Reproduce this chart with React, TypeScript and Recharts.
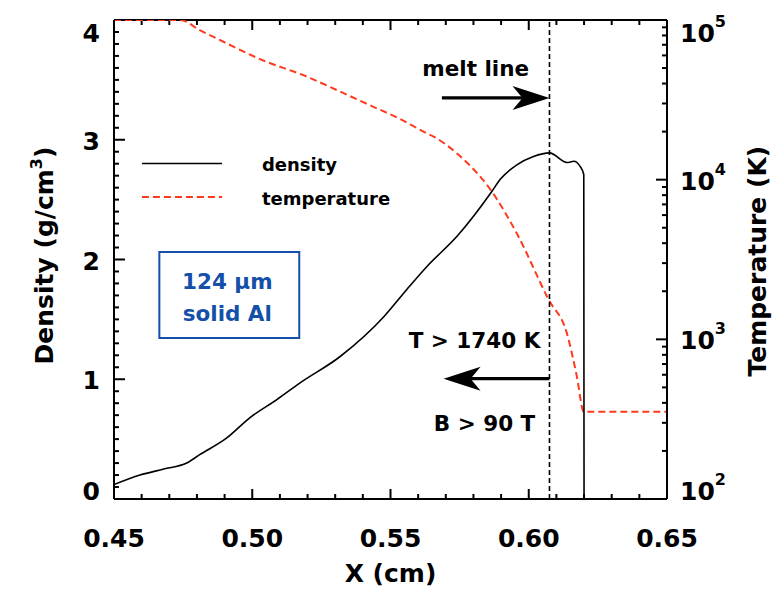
import React from "react";
import { ComposedChart, Line, XAxis, YAxis, ReferenceLine, ReferenceArea } from "recharts";

const FONT = "'DejaVu Sans', sans-serif";
const RED = "#ff3a1c";
const BLUE = "#1450aa";

// density profile (g/cm^3) vs X (cm)
const densityX = [
  0.45, 0.4594, 0.468, 0.4763, 0.481, 0.4908, 0.4992, 0.5089, 0.5173, 0.5318,
  0.5475, 0.5559, 0.5631, 0.5743, 0.5867, 0.5897, 0.5957, 0.6017, 0.6075,
  0.6138, 0.6163, 0.6185, 0.6199, 0.62,
];
const densityY = [
  0.12, 0.2, 0.25, 0.3, 0.37, 0.51, 0.68, 0.83, 0.97, 1.19, 1.52, 1.75, 1.94,
  2.2, 2.57, 2.67, 2.79, 2.86, 2.89, 2.81, 2.82, 2.78, 2.71, 0,
];

// temperature profile (K) vs X (cm)
const tempX = [
  0.45, 0.4739, 0.481, 0.4932, 0.5028, 0.5197, 0.5318, 0.5438, 0.5535,
  0.5631, 0.5656, 0.5746, 0.5867, 0.5957, 0.6072, 0.6138, 0.6174, 0.6199,
  0.65,
];
const tempY = [
  100000, 100000, 86500, 68100, 56900, 44200, 35600, 28600, 24000, 19500,
  18600, 14300, 8400, 4600, 1770, 1090, 585, 352, 352,
];

const xMajor = [0.45, 0.5, 0.55, 0.6, 0.65];
const xLabels = ["0.45", "0.50", "0.55", "0.60", "0.65"];
const densityMajor = [0, 1, 2, 3, 4];
const tempMajor = [100, 1000, 10000, 100000];
const tempExp = ["2", "3", "4", "5"];

const meltX = 0.6075;

// legend sample lines, in data units
const legendX = [0.4601, 0.4891];
const legendDensityY = 2.802;
const legendTempY = 2.522;

const xTicks = Array.from({ length: 21 }, (_, i) => (45 + i) / 100);
const densityTicks = Array.from({ length: 41 }, (_, i) => i / 10);
const tempTicks = [2, 3, 4]
  .flatMap((d) => [1, 2, 3, 4, 5, 6, 7, 8, 9].map((m) => m * Math.pow(10, d)))
  .concat([100000]);

const densityData = densityX.map((x, i) => ({ x, density: densityY[i] }));
const tempData = tempX.map((x, i) => ({ x, temp: tempY[i] }));

const PLOT_TOP = 20;
const PLOT_BOTTOM = 499;
// pixels per data unit of the plot box (553 x 479 px)
const PX_PER_X = 553 / 0.2;
const PX_PER_D = 479 / 4;

const isMajor = (list: number[], v: number) =>
  list.findIndex((m) => Math.abs(m - v) < 1e-9 * Math.max(1, m));

const tickText = {
  fontFamily: FONT,
  fontWeight: 700,
  fontSize: 25,
  fill: "#000",
};

const titleStyle = { ...tickText, whiteSpace: "pre" as const };

const clampBase = (y: number) =>
  Math.min(PLOT_BOTTOM + 1, Math.max(PLOT_TOP + 22, y + 10));

// tick labels (and the axis titles, hung on the middle tick of each axis)
const renderBottomLabel = (props: any) => {
  const { x, y, payload } = props;
  const idx = isMajor(xMajor, payload.value);
  if (idx < 0) return <g />;
  return (
    <g>
      <text x={x} y={y + 48} textAnchor="middle" {...tickText}>
        {xLabels[idx]}
      </text>
      {idx === 2 && (
        <text x={x} y={y + 83} textAnchor="middle" {...titleStyle}>
          {"X  (cm)"}
        </text>
      )}
    </g>
  );
};

const renderLeftLabel = (props: any) => {
  const { x, y, payload } = props;
  const idx = isMajor(densityMajor, payload.value);
  if (idx < 0) return <g />;
  return (
    <g>
      <text x={x - 14} y={clampBase(y)} textAnchor="end" {...tickText}>
        {String(densityMajor[idx])}
      </text>
      {idx === 2 && (
        <text
          transform={`translate(${x - 61},${y - 4}) rotate(-90)`}
          textAnchor="middle"
          {...titleStyle}
        >
          {"Density  (g/cm"}
          <tspan dy={-11} fontSize={16}>
            3
          </tspan>
          <tspan dy={11}>)</tspan>
        </text>
      )}
    </g>
  );
};

const renderRightLabel = (props: any) => {
  const { x, y, payload } = props;
  const idx = isMajor(tempMajor, payload.value);
  if (Math.abs(payload.value - 3000) < 1e-6) {
    return (
      <text
        transform={`translate(${x + 99},${y - 2}) rotate(-90)`}
        textAnchor="middle"
        {...titleStyle}
      >
        {"Temperature  (K)"}
      </text>
    );
  }
  if (idx < 0) return <g />;
  return (
    <text x={x + 13} y={clampBase(y)} textAnchor="start" {...tickText}>
      10
      <tspan dy={-15} fontSize={16}>
        {tempExp[idx]}
      </tspan>
    </text>
  );
};

const noteStyle = {
  fontFamily: FONT,
  fontWeight: 700,
  fontSize: 21.5,
  fill: "#000",
};

type NoteSpec = { text: string; dx: number; dy: number };

function ArrowNote(props: any) {
  const { x1, y1, x2, y2, notes } = props;
  const dx = x2 - x1;
  const dy = y2 - y1;
  const len = Math.sqrt(dx * dx + dy * dy) || 1;
  const ux = dx / len;
  const uy = dy / len;
  const nx = -uy;
  const ny = ux;
  const head = 37;
  const half = 12;
  const notch = 10;
  const bx = x2 - ux * head;
  const by = y2 - uy * head;
  const pts = [
    [x2, y2],
    [bx + nx * half, by + ny * half],
    [x2 - ux * (head - notch), y2 - uy * (head - notch)],
    [bx - nx * half, by - ny * half],
  ]
    .map((p) => p.join(","))
    .join(" ");
  const mx = (x1 + x2) / 2;
  const my = (y1 + y2) / 2;
  return (
    <g>
      <line
        x1={x1}
        y1={y1}
        x2={x2 - ux * (head - notch)}
        y2={y2 - uy * (head - notch)}
        stroke="#000"
        strokeWidth={3.2}
      />
      <polygon points={pts} fill="#000" />
      {(notes as NoteSpec[]).map((n) => (
        <text key={n.text} x={mx + n.dx} y={my + n.dy} textAnchor="middle" {...noteStyle}>
          {n.text}
        </text>
      ))}
    </g>
  );
}

const legendShape = (label: string, color: string, dash?: string) => (p: any) =>
  (
    <g>
      <line
        x1={p.x1}
        y1={p.y1}
        x2={p.x2}
        y2={p.y2}
        stroke={color}
        strokeWidth={color === RED ? 2 : 1.6}
        strokeDasharray={dash}
      />
      <text
        x={p.x1 + 120}
        y={p.y1 + 8}
        fontFamily={FONT}
        fontWeight={700}
        fontSize={18}
        fill="#000"
      >
        {label}
      </text>
    </g>
  );

function BoxLabel(props: any) {
  const { x, y, width } = props.viewBox;
  const cx = x + width / 2 - 2;
  return (
    <g>
      <text x={cx} y={y + 37} textAnchor="middle" {...noteStyle} fill={BLUE}>
        124 µm
      </text>
      <text x={cx} y={y + 69} textAnchor="middle" {...noteStyle} fill={BLUE}>
        solid Al
      </text>
    </g>
  );
}

// inward tick marks as short segments
const tickSeg = {
  xAxisId: "xb",
  stroke: "#000",
  strokeWidth: 2,
  ifOverflow: "visible" as const,
};

export default function App() {
  return (
    <div style={{ marginLeft: -8, marginTop: -8 }}>
      <ComposedChart
        width={782}
        height={594}
        margin={{ top: PLOT_TOP, right: 0, bottom: 0, left: 0 }}
      >
        <XAxis
          xAxisId="xb"
          type="number"
          dataKey="x"
          domain={[0.45, 0.65]}
          ticks={xTicks}
          interval={0}
          allowDataOverflow
          height={95}
          tickSize={0}
          tickMargin={0}
          tickLine={false}
          stroke="#000"
          strokeWidth={2}
          tick={renderBottomLabel}
        />
        <YAxis
          yAxisId="yd"
          type="number"
          domain={[0, 4]}
          ticks={densityTicks}
          interval={0}
          allowDataOverflow
          width={114}
          tickSize={0}
          tickMargin={0}
          tickLine={false}
          stroke="#000"
          strokeWidth={2}
          tick={renderLeftLabel}
        />
        <YAxis
          yAxisId="yt"
          orientation="right"
          type="number"
          scale="log"
          domain={[100, 100000]}
          ticks={tempTicks}
          interval={0}
          allowDataOverflow
          width={115}
          tickSize={0}
          tickMargin={0}
          tickLine={false}
          stroke="#000"
          strokeWidth={2}
          tick={renderRightLabel}
        />

        {/* top frame line */}
        <ReferenceLine xAxisId="xb" yAxisId="yd" y={4} stroke="#000" strokeWidth={2} />

        {xTicks.map((v) => {
          const h = (isMajor(xMajor, v) >= 0 ? 10 : 5) / PX_PER_D;
          return (
            <React.Fragment key={`xt${v}`}>
              <ReferenceLine
                {...tickSeg}
                yAxisId="yd"
                segment={[
                  { x: v, y: 0 },
                  { x: v, y: h },
                ]}
              />
              <ReferenceLine
                {...tickSeg}
                yAxisId="yd"
                segment={[
                  { x: v, y: 4 },
                  { x: v, y: 4 - h },
                ]}
              />
            </React.Fragment>
          );
        })}
        {densityTicks.map((v) => (
          <ReferenceLine
            key={`dt${v}`}
            {...tickSeg}
            yAxisId="yd"
            segment={[
              { x: 0.45, y: v },
              { x: 0.45 + (isMajor(densityMajor, v) >= 0 ? 11 : 5) / PX_PER_X, y: v },
            ]}
          />
        ))}
        {tempTicks.map((v) => (
          <ReferenceLine
            key={`tt${v}`}
            {...tickSeg}
            yAxisId="yt"
            segment={[
              { x: 0.65 - (isMajor(tempMajor, v) >= 0 ? 11 : 5) / PX_PER_X, y: v },
              { x: 0.65, y: v },
            ]}
          />
        ))}

        <ReferenceArea
          xAxisId="xb"
          yAxisId="yd"
          x1={0.4664}
          x2={0.517}
          y1={1.345}
          y2={2.063}
          fill="none"
          stroke={BLUE}
          strokeWidth={2}
          label={<BoxLabel />}
        />

        <ReferenceLine
          xAxisId="xb"
          yAxisId="yd"
          segment={[
            { x: legendX[0], y: legendDensityY },
            { x: legendX[1], y: legendDensityY },
          ]}
          shape={legendShape("density", "#000")}
        />
        <ReferenceLine
          xAxisId="xb"
          yAxisId="yd"
          segment={[
            { x: legendX[0], y: legendTempY },
            { x: legendX[1], y: legendTempY },
          ]}
          shape={legendShape("temperature", RED, "7 4")}
        />

        <Line
          xAxisId="xb"
          yAxisId="yt"
          data={tempData}
          dataKey="temp"
          type="monotone"
          stroke={RED}
          strokeWidth={2}
          strokeDasharray="7 4"
          dot={false}
          isAnimationActive={false}
        />
        <Line
          xAxisId="xb"
          yAxisId="yd"
          data={densityData}
          dataKey="density"
          type="monotone"
          stroke="#000"
          strokeWidth={1.6}
          dot={false}
          isAnimationActive={false}
        />

        <ReferenceLine
          xAxisId="xb"
          yAxisId="yd"
          x={meltX}
          stroke="#000"
          strokeWidth={1.6}
          strokeDasharray="5 3"
        />
        <ReferenceLine
          xAxisId="xb"
          yAxisId="yd"
          segment={[
            { x: 0.5686, y: 3.349 },
            { x: meltX, y: 3.349 },
          ]}
          shape={<ArrowNote notes={[{ text: "melt line", dx: -20, dy: -22 }]} />}
        />
        <ReferenceLine
          xAxisId="xb"
          yAxisId="yd"
          segment={[
            { x: meltX, y: 1.005 },
            { x: 0.5692, y: 1.005 },
          ]}
          shape={
            <ArrowNote
              notes={[
                { text: "T > 1740 K", dx: -22, dy: -31 },
                { text: "B > 90 T", dx: -12, dy: 52 },
              ]}
            />
          }
        />
      </ComposedChart>
    </div>
  );
}
